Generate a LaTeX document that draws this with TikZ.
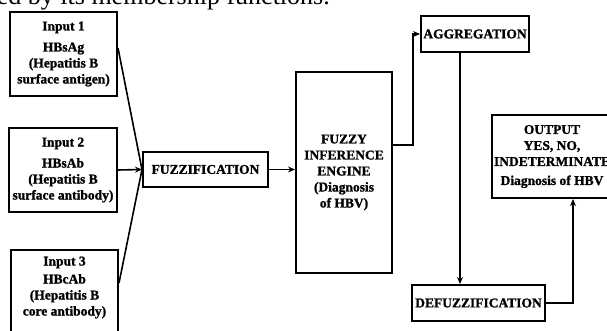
\documentclass[tikz,border=0pt]{standalone}
\usepackage{fontspec}
\setmainfont{Liberation Serif}[BoldFeatures={FakeBold=1.2}]
\usetikzlibrary{arrows.meta,calc}
\begin{document}
\begin{tikzpicture}[x=1pt,y=-1pt,
  box/.style={draw,line width=2pt,inner sep=0pt,align=center,
    font=\fontsize{13.5}{16}\selectfont\bfseries},
  conn/.style={line width=1.6pt},
  arr/.style={conn,-{Stealth[length=7pt,width=6pt]}}]
\useasboundingbox (0,0) rectangle (607,331);
\clip (0,0) rectangle (607,331);

\node[anchor=base east,font=\fontsize{26}{30}\selectfont,inner sep=0pt] (hdr) at (330,5) {ed by its membership functions.};

\node[box,minimum width=107pt,minimum height=84pt] (in1) at (63.5,54)
  {Input 1\\[5pt]HBsAg\\(Hepatitis B\\surface antigen)};
\node[box,minimum width=108pt,minimum height=84pt] (in2) at (63,170)
  {Input 2\\[5pt]HBsAb\\(Hepatitis B\\surface antibody)};
\node[box,minimum width=107pt,minimum height=85pt] (in3) at (64.5,292.5) {};
\node[box,draw=none,anchor=center] (in3t) at (64.5,287.5)
  {Input 3\\[2pt]HBcAb\\(Hepatitis B\\core antibody)};

\node[box,minimum width=125pt,minimum height=35pt] (fuzz) at (205.5,169.5) {FUZZIFICATION};
\node[box,minimum width=96pt,minimum height=201pt] (fie) at (344,172.5)
  {FUZZY\\INFERENCE\\ENGINE\\(Diagnosis\\of HBV)};
\node[box,minimum width=108pt,minimum height=36pt] (agg) at (475,34) {AGGREGATION};
\node[box,minimum width=133pt,minimum height=36pt] (defuzz) at (478.5,303) {DEFUZZIFICATION};
\node[box,minimum width=120pt,minimum height=83pt] (out) at (552,156.5)
  {OUTPUT\\YES, NO,\\INDETERMINATE\\[3pt]Diagnosis of HBV};

\coordinate (k1) at (413,145);
\coordinate (k2) at (460,0);
\coordinate (k3) at (573,0);

\draw[conn] ([yshift=6pt]in1.east) -- (fuzz.west);
\draw[arr] (in2.east) -- (fuzz.west);
\draw[conn] ([yshift=9.5pt]in3.east) -- (fuzz.west);
\draw[arr] (fuzz.east) -- (fuzz.east -| fie.west);
\draw[arr] (fie.east |- k1) -- (k1) |- (agg.west);
\draw[arr] (agg.south -| k2) -- (defuzz.north -| k2);
\draw[arr] (defuzz.east) -| (out.south -| k3);
\end{tikzpicture}
\end{document}
